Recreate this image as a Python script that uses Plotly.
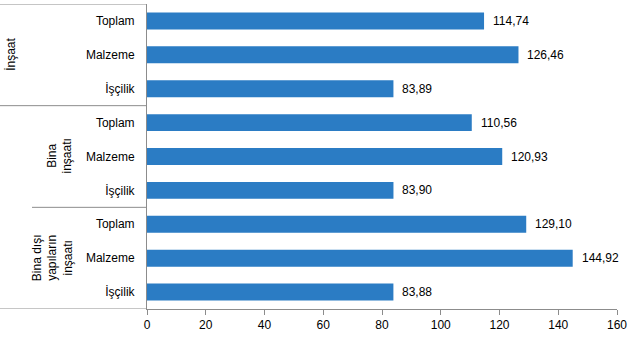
import plotly.graph_objects as go

# Index values by construction type and cost component
groups = ["İnşaat", "Bina<br>inşaatı", "Bina dışı<br>yapıların<br>inşaatı"]
components = ["Toplam", "Malzeme", "İşçilik"]
values = [114.74, 126.46, 83.89,
          110.56, 120.93, 83.90,
          129.10, 144.92, 83.88]
x_ticks = [0, 20, 40, 60, 80, 100, 120, 140, 160]

bar_color = "#2B7CC4"
axis_color = "#8C8C8C"
font_family = "Liberation Sans, Arial, sans-serif"

n = len(values)
positions = list(range(n))
labels = [components[i % len(components)] for i in range(n)]

fig = go.Figure(go.Bar(
    x=values,
    y=positions,
    orientation="h",
    marker=dict(color=bar_color, line=dict(width=0)),
    width=0.5,
    hoverinfo="x",
))

# value labels to the right of each bar
for p, v in zip(positions, values):
    fig.add_annotation(
        x=v, y=p, xref="x", yref="y",
        text=f"{v:.2f}".replace(".", ","),
        showarrow=False, xanchor="left", xshift=7,
        font=dict(size=12, color="#000000", family=font_family),
    )

# plot area spans 470 px; convert pixel offsets left of the axis to paper units
plot_w = 470.0
def px_to_paper(px):
    return -px / plot_w

# group labels, rotated
group_x_px = [136, 88, 95]
for gi, g in enumerate(groups):
    center = gi * 3 + 1
    fig.add_annotation(
        x=px_to_paper(group_x_px[gi]), y=center, xref="paper", yref="y",
        text=g, textangle=-90, showarrow=False,
        xanchor="center", yanchor="middle",
        font=dict(size=12, color="#000000", family=font_family),
    )

# category separators of the two-level axis
sep_lines = [(-0.5, 147), (2.5, 147), (5.5, 115), (8.5, 147)]
for yv, left_px in sep_lines:
    fig.add_shape(
        type="line", xref="paper", yref="y",
        x0=px_to_paper(left_px), x1=0, y0=yv, y1=yv,
        line=dict(color=axis_color, width=1),
    )

fig.update_layout(
    width=637, height=341,
    margin=dict(l=147, r=20, t=4, b=32),
    paper_bgcolor="white", plot_bgcolor="white",
    showlegend=False,
    font=dict(family=font_family, size=12, color="#000000"),
    xaxis=dict(
        range=[0, 160], tickvals=x_ticks,
        showgrid=False, zeroline=False,
        showline=True, linecolor=axis_color, linewidth=1,
        ticks="outside", ticklen=5, tickcolor=axis_color,
        tickfont=dict(size=12, color="#000000"),
        fixedrange=True,
    ),
    yaxis=dict(
        range=[8.5, -0.5],
        tickvals=positions, ticktext=labels,
        showgrid=False, zeroline=False,
        showline=True, linecolor=axis_color, linewidth=1,
        ticks="", ticklabelstandoff=9,
        tickfont=dict(size=12, color="#000000"),
        fixedrange=True,
    ),
)

fig.write_html("out.html")
